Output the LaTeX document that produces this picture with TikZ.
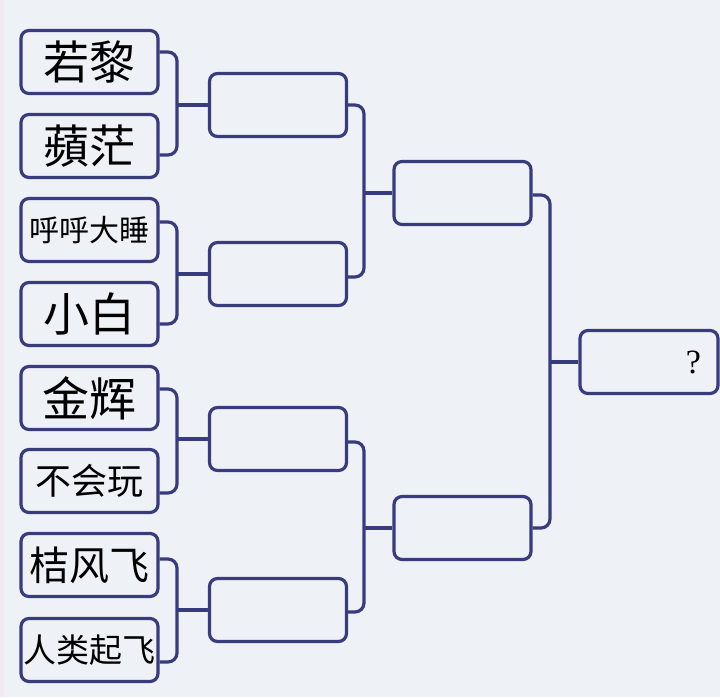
\documentclass[tikz,border=0pt]{standalone}
\usepackage{fontspec}
\newfontfamily\cjk{Noto Sans CJK SC}
\newfontfamily\qfont{Liberation Serif}
\definecolor{bg}{HTML}{EEF1F5}
\definecolor{edgepink}{HTML}{F2EAF0}
\definecolor{ln}{HTML}{383B7E}
\newcommand{\fs}[1]{\fontsize{#1}{#1}\selectfont}
\begin{document}
\begin{tikzpicture}[x=1pt,y=-1pt,
  box/.style={draw=ln, line width=3.2pt, rounded corners=8pt, fill=bg,
    minimum width=137pt, minimum height=63pt, inner sep=0pt, font=\cjk},
  link/.style={draw=ln, line width=3.2pt, rounded corners=9pt},
  bar/.style={draw=ln, line width=3.2pt}]
\fill[bg] (0,0) rectangle (720,697);
\fill[edgepink] (0,0) rectangle (4,697);
\useasboundingbox (0,0) rectangle (720,697);
% round 1
\node[box] (a1) at (89.5,62)  {\fs{46}若黎};
\node[box] (a2) at (89.5,146) {\fs{46}蘋茫};
\node[box] (a3) at (89.5,230) {\fs{30}呼呼大睡};
\node[box] (a4) at (89.5,314) {\fs{46}小白};
\node[box] (a5) at (89.5,398) {\fs{47}金辉};
\node[box] (a6) at (89.5,481) {\fs{36}不会玩};
\node[box] (a7) at (89.5,565) {\fs{40}桔风飞};
\node[box] (a8) at (89.5,650) {\fs{33}人类起飞};
% round 2
\node[box] (b1) at (278,105) {};
\node[box] (b2) at (278,274) {};
\node[box] (b3) at (278,439) {};
\node[box] (b4) at (278,610) {};
% round 3
\node[box] (c1) at (462.5,193) {};
\node[box] (c2) at (462.5,528) {};
% final
\node[box, font=\qfont\fs{34}, text width=104pt, inner xsep=17pt, align=right] (f) at (649,362) {?};
% junctions
\coordinate (j1) at (177,105);
\coordinate (j2) at (177,274);
\coordinate (j3) at (177,439);
\coordinate (j4) at (177,610);
\coordinate (k1) at (364,193);
\coordinate (k2) at (364,528);
\coordinate (m1) at (550,362);
% round 1 brackets
\draw[link] ([yshift=10pt]a1.east) -| (j1) |- ([yshift=-9pt]a2.east);
\draw[link] ([yshift=8pt]a3.east) -| (j2) |- ([yshift=-10pt]a4.east);
\draw[link] ([yshift=9pt]a5.east) -| (j3) |- ([yshift=-12pt]a6.east);
\draw[link] ([yshift=6pt]a7.east) -| (j4) |- ([yshift=-12pt]a8.east);
\draw[bar] (j1) -- (b1.west);
\draw[bar] (j2) -- (b2.west);
\draw[bar] (j3) -- (b3.west);
\draw[bar] (j4) -- (b4.west);
% round 2 brackets
\draw[link] (b1.east) -| (k1) |- ([yshift=-3pt]b2.east);
\draw[link] ([yshift=-3pt]b3.east) -| (k2) |- ([yshift=-2pt]b4.east);
\draw[bar] (k1) -- (c1.west);
\draw[bar] (k2) -- (c2.west);
% round 3 bracket
\draw[link] ([yshift=-2pt]c1.east) -| (m1) |- (c2.east);
\draw[bar] (m1) -- (f.west);
\end{tikzpicture}
\end{document}
